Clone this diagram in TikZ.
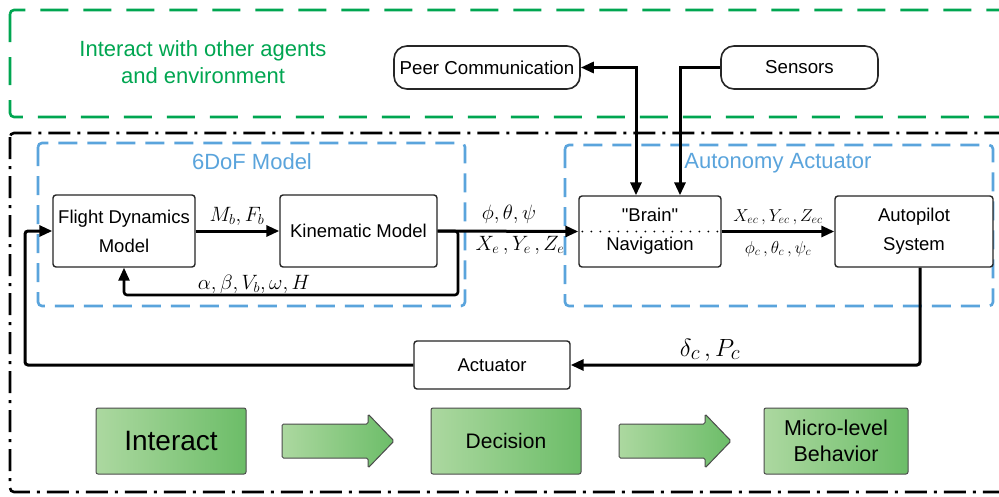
\documentclass[tikz,border=0pt]{standalone}
\usepackage{fontspec}
\setmainfont{Liberation Sans}
\newfontfamily\qfont{Liberation Sans}[Ligatures=TeXOff]
\usetikzlibrary{arrows.meta}
\definecolor{grtxt}{RGB}{0,166,81}
\definecolor{bluel}{RGB}{90,164,220}
\definecolor{gA}{RGB}{172,216,160}
\definecolor{gB}{RGB}{108,189,104}
\begin{document}
\begin{tikzpicture}[x=1pt,y=-1pt,
  box/.style={draw=black!85, line width=1.4pt, rounded corners=3pt, fill=white, align=center, inner sep=0pt, font=\fontsize{18.5}{29}\selectfont},
  pill/.style={draw=black!85, line width=1.6pt, rounded corners=13pt, fill=white, inner sep=0pt, font=\fontsize{18.7}{22}\selectfont},
  gbox/.style={draw=black!70, line width=1pt, rounded corners=2pt, left color=gA, right color=gB, align=center, inner sep=0pt},
  garrow/.style={draw=black!70, line width=1pt, left color=gA, right color=gB, rounded corners=1.5pt},
  conn/.style={line width=3pt, black},
  tipe/.style={-{Triangle[length=13pt,width=11pt]}},
  tipb/.style={{Triangle[length=13pt,width=11pt]}-{Triangle[length=13pt,width=11pt]}},
  grdash/.style={draw=grtxt, line width=2.6pt, dash pattern=on 28pt off 15pt, rounded corners=4pt},
  bldash/.style={draw=bluel, line width=2.6pt, dash pattern=on 19pt off 10pt, rounded corners=4pt},
  bkdash/.style={draw=black, line width=2.6pt, dash pattern=on 22pt off 7pt on 3pt off 7pt, rounded corners=4pt},
  lbl/.style={inner sep=0pt}
]
\useasboundingbox (0,0) rectangle (999,496);
\fill[white] (0,0) rectangle (999,496);
\begin{scope}
\clip (0,0) rectangle (999,496);
% frames
\draw[grdash] (10,10) rectangle (1012,117);
\draw[bkdash] (10,133) rectangle (1012,492);
\draw[bldash] (38,143) rectangle (465,306);
\draw[bldash] (565,145) rectangle (993,306);
\end{scope}

\node[lbl, text=grtxt, align=center, font=\fontsize{22}{27}\selectfont] (envtxt) at (203,62) {Interact with other agents\\and environment};
\node[lbl, text=bluel, font=\fontsize{22}{24}\selectfont] (dof) at (252,162) {6DoF Model};
\node[lbl, text=bluel, font=\fontsize{22}{24}\selectfont] (aut) at (778,163) {Autonomy Actuator};

% boxes
\node[pill, minimum width=186pt, minimum height=43pt] (peer) at (487,67.5) {Peer Communication};
\node[pill, minimum width=157pt, minimum height=43pt] (sens) at (799.5,67.5) {Sensors};
\node[box, minimum width=142pt, minimum height=72pt] (fd) at (124,231) {Flight Dynamics\\Model};
\node[box, minimum width=157pt, minimum height=72pt] (km) at (358.5,231) {Kinematic Model};
\node[box, minimum width=142pt, minimum height=71pt] (brain) at (650,231.5) {{\qfont "Brain"}\\Navigation};
\node[box, minimum width=158pt, minimum height=71pt] (ap) at (914,231.5) {Autopilot\\System};
\node[box, minimum width=156pt, minimum height=48pt] (act) at (492,365) {Actuator};

\draw[line width=2pt, dash pattern=on 0pt off 9pt, line cap=round] ([xshift=4pt]brain.west) -- ([xshift=-2pt]brain.east);

% connectors
\draw[conn, tipe] (fd.east) -- (km.west);
\draw[conn, tipe] (km.east) -- (brain.west);
\coordinate (fb) at (458,295);
\draw[conn, line width=2.6pt, rounded corners=3pt, tipe] (km.east) -| (fb) -| (fd.south);
\draw[conn, tipb] (peer.east) -| ([xshift=-14pt]brain.north);
\draw[conn, tipe] (sens.west) -| ([xshift=30pt]brain.north);
\draw[conn, tipe] (brain.east) -- (ap.west);
\draw[conn, rounded corners=3pt, tipe] ([xshift=6pt]ap.south) |- (act.east);
\coordinate (lb) at (25,365);
\draw[conn, rounded corners=3pt, tipe] (act.west) -- (lb) |- (fd.west);

% labels
\node[lbl, font=\fontsize{20}{22}\selectfont] (l1) at (237,216) {$M_b, F_b$};
\node[lbl, font=\fontsize{19.5}{22}\selectfont] (l2) at (254,284) {$\alpha, \beta, V_b, \omega, H$};
\node[lbl, font=\fontsize{21.5}{24}\selectfont] (l3) at (509,214) {$\phi, \theta, \psi$};
\node[lbl, font=\fontsize{21}{24}\selectfont] (l4) at (520,245) {$X_e\,, Y_e\,, Z_e$};
\node[lbl, font=\fontsize{17}{19}\selectfont] (l5) at (778,217) {$X_{ec}\,, Y_{ec}\,, Z_{ec}$};
\node[lbl, font=\fontsize{17}{19}\selectfont] (l6) at (778,249) {$\phi_c\,, \theta_c\,, \psi_c$};
\node[lbl, font=\fontsize{28}{30}\selectfont] (l7) at (710,350) {$\delta_c\,, P_c$};

% bottom green flow
\node[gbox, minimum width=150pt, minimum height=66pt, font=\fontsize{28}{30}\selectfont] (inter) at (171,441) {Interact};
\node[gbox, minimum width=150pt, minimum height=66pt, font=\fontsize{21}{26}\selectfont] (dec) at (506,441) {Decision};
\node[gbox, minimum width=144pt, minimum height=66pt, font=\fontsize{21.5}{26}\selectfont] (micro) at (836,441) {Micro-level\\Behavior};
\draw[garrow] (282,424) -- (368,424) -- (368,414) -- (394,441) -- (368,468) -- (368,458) -- (282,458) -- cycle;
\draw[garrow] (619,424) -- (705,424) -- (705,414) -- (731,441) -- (705,468) -- (705,458) -- (619,458) -- cycle;
\end{tikzpicture}
\end{document}
